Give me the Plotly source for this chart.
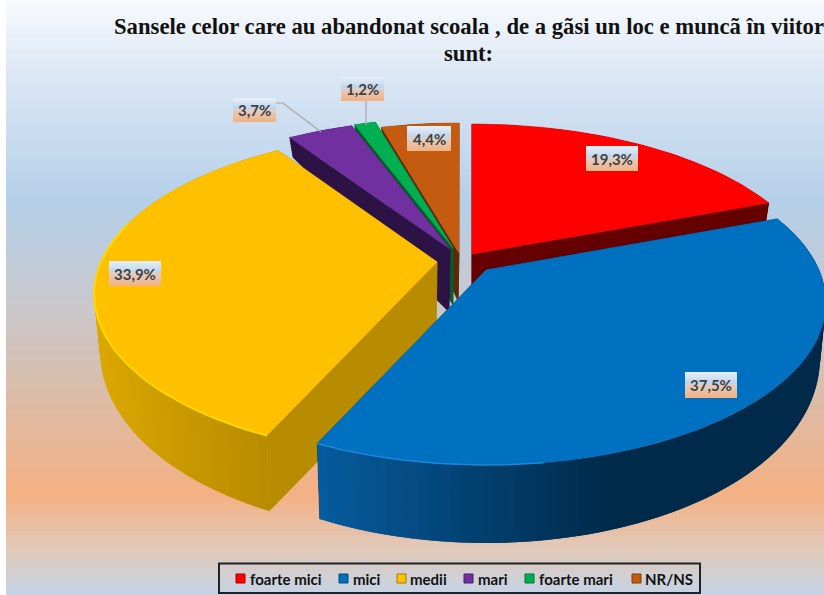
import numpy as np
import plotly.graph_objects as go

# ---------- data ----------
CATEGORIES = ["foarte mici", "mici", "medii", "mari", "foarte mari", "NR/NS"]
VALUES = [19.3, 37.5, 33.9, 3.7, 1.2, 4.4]
LABELS = ["19,3%", "37,5%", "33,9%", "3,7%", "1,2%", "4,4%"]
TITLE_LINE_1 = "Sansele celor care au abandonat scoala , de a gãsi un loc e muncã în viitor"
TITLE_LINE_2 = "sunt:"

# ---------- styling / layout constants ----------
COLORS = ["#FF0000", "#0070C0", "#FFC000", "#7030A0", "#00B050", "#C55A11"]
WALLS = ["#640000", "#003A66", "#B88C00", "#2D1245", "#0B5A2C", "#5A2A08"]
CENTERS = [(472, 254), (486, 270), (437, 262), (450, 249), (453, 248), (459, 253)]
APEX_OFFSET = [(0, 60), (0, 60), (-1, 78), (-1, 63), (0, 57), (-1, 48)]
RADIUS_X = [339, 333, 336, 339, 339, 339]
DRAW_ORDER = [0, 5, 4, 3, 2, 1]
LABEL_BOX = [(586, 146, 52, 25), (685, 372, 52, 26), (109, 261, 52, 25),
             (233, 98, 43, 24), (341, 77, 43, 24), (407, 126, 44, 25)]
LEGEND_X = [(236, 250), (339, 353), (397, 410), (464, 478), (525, 539), (632, 645)]
RB, K = 156, 0.2


def top(i, t):
    u, v = np.sin(t), np.cos(t)
    w = 1 + K * v
    cx, cy = CENTERS[i]
    return cx + RADIUS_X[i] * u / w, cy - RB * v / w


def bottom(i, t):
    u, v = np.sin(t), np.cos(t)
    x, y = top(i, t)
    return x - 6 * u, y + (48 - 32 * v - 2 * v * v)


def mix(c1, c2, f):
    f = min(max(f, 0), 1)
    a = [int(c1[j:j + 2], 16) for j in (1, 3, 5)]
    b = [int(c2[j:j + 2], 16) for j in (1, 3, 5)]
    return "rgb(%d,%d,%d)" % tuple(a[k] + (b[k] - a[k]) * f for k in range(3))


def side_color(i, x):
    if i == 1:
        return mix("#065C9E", "#002A4A", (x - 321) / (610 - 321))
    if i == 2:
        return mix("#DCA800", "#B88C00", (x - 100) / 170)
    return WALLS[i]


fig = go.Figure()

# page background
BG_Y = np.linspace(0, 595, 120)
fig.add_trace(go.Heatmap(
    x=[6, 824], y=BG_Y, z=[[(a + b) / 2] for a, b in zip(BG_Y[:-1], BG_Y[1:])],
    zmin=0, zmax=595, showscale=False, hoverinfo="skip",
    colorscale=[[0, "#F8FAFD"], [70 / 595, "#DDE8F5"], [205 / 595, "#B4CFE8"],
                [300 / 595, "#C8C8CE"], [400 / 595, "#DDBBA6"], [495 / 595, "#F4B183"],
                [550 / 595, "#E0C9BA"], [1, "#C5D4E6"]],
))


def poly(xs, ys, color, lw=0.6):
    fig.add_trace(go.Scatter(x=xs, y=ys, mode="lines", fill="toself", fillcolor=color,
                             line=dict(color=color, width=lw), hoverinfo="skip",
                             showlegend=False))


total = sum(VALUES)
edges = np.cumsum([0] + VALUES) / total * 2 * np.pi

for i in DRAW_ORDER:
    t0, t1 = edges[i], edges[i + 1]
    ox, oy = APEX_OFFSET[i]
    cx, cy = CENTERS[i]
    # radial walls
    for t in (t1, t0):
        xr, yr = top(i, t)
        xq, yq = bottom(i, t)
        poly([cx, xr, xq, cx + ox, cx], [cy, yr, yq, cy + oy, cy], WALLS[i])
    # rim: each band runs on under the next one, so that no seam shows
    segs = 90 if i in (1, 2) else 4
    ts = np.linspace(t0, t1, segs + 1)
    for j, a in enumerate(ts[:-1]):
        sub = np.linspace(a, ts[min(j + 2, segs)], 5)
        xt, yt = top(i, sub)
        xb, yb = bottom(i, sub)
        xs = list(xt) + list(xb[::-1])
        ys = list(yt) + list(yb[::-1])
        xm = float(np.mean(bottom(i, np.array([a, ts[j + 1]]))[0]))
        poly(xs, ys, side_color(i, xm), lw=0)
    # top face
    ts = np.linspace(t0, t1, 160)
    xa, ya = top(i, ts)
    poly([cx] + list(xa) + [cx], [cy] + list(ya) + [cy], COLORS[i])

# bevel highlights on the front rims
for i, a, b, col, wid in [(2, edges[2], np.radians(285), "#FFD700", 2),
                          (1, np.radians(172), edges[2], "#1E86D8", 1.5)]:
    ts = np.linspace(a, b, 80)
    xa, ya = top(i, ts)
    fig.add_trace(go.Scatter(x=xa, y=ya, mode="lines", line=dict(color=col, width=wid),
                             hoverinfo="skip", showlegend=False))

# leader lines
for xs, ys in [([276, 283, 321], [103, 103, 132]), ([366, 366], [101, 125])]:
    fig.add_trace(go.Scatter(x=xs, y=ys, mode="lines", line=dict(color="#A6A6A6", width=1.2),
                             hoverinfo="skip", showlegend=False))

# data labels: gradient boxes, one pixel row per band
shapes = []
annots = []
for lab, (x, y, w, h) in zip(LABELS, LABEL_BOX):
    for k in range(h):
        f = k / (h - 1)
        c = mix("#E6EFF9", "#BDD4EC", f / 0.45) if f < 0.45 else mix("#DED2CE", "#F4B183", (f - 0.45) / 0.55)
        shapes.append(dict(type="rect", xref="x", yref="y", layer="above",
                           x0=x, x1=x + w, y0=y + k, y1=y + k + 1,
                           line=dict(width=0), fillcolor=c))
    annots.append(dict(x=x + w / 2, y=y + h / 2, xref="x", yref="y", text=lab, showarrow=False,
                       font=dict(family="Lato", size=15, color="#404040", weight=700)))

# second title line
annots.append(dict(x=468, y=53, xref="x", yref="y", text=TITLE_LINE_2, showarrow=False,
                   font=dict(family="Liberation Serif", size=22.7, color="#111111", weight=700)))

# legend box
shapes.append(dict(type="rect", xref="x", yref="y", layer="above", x0=219, x1=700, y0=563.5, y1=593,
                   line=dict(color="#222222", width=2), fillcolor="rgba(0,0,0,0)"))
for name, col, (mx, tx) in zip(CATEGORIES, COLORS, LEGEND_X):
    shapes.append(dict(type="rect", xref="x", yref="y", layer="above", x0=mx, x1=mx + 9, y0=574, y1=583,
                       line=dict(color=mix(col, "#000000", 0.35), width=1), fillcolor=col))
    annots.append(dict(x=tx, y=579, xref="x", yref="y", text=name, showarrow=False, xanchor="left",
                       xshift=-2, font=dict(family="Lato", size=15, color="#111111", weight=700)))

fig.update_layout(
    width=824, height=595, margin=dict(l=0, r=0, t=0, b=0), autosize=False,
    paper_bgcolor="white", plot_bgcolor="rgba(0,0,0,0)", showlegend=False,
    xaxis=dict(range=[0, 824], visible=False, fixedrange=True),
    yaxis=dict(range=[595, 0], visible=False, fixedrange=True),
    title=dict(text=TITLE_LINE_1, x=469 / 824, xanchor="center", y=1 - 26 / 595, yanchor="middle",
               font=dict(family="Liberation Serif", size=22.7, color="#111111", weight=700)),
    shapes=shapes, annotations=annots,
)
fig.write_html("out.html", config={"displayModeBar": False},
               post_script="document.body.style.margin='0';document.body.style.overflow='hidden';")
